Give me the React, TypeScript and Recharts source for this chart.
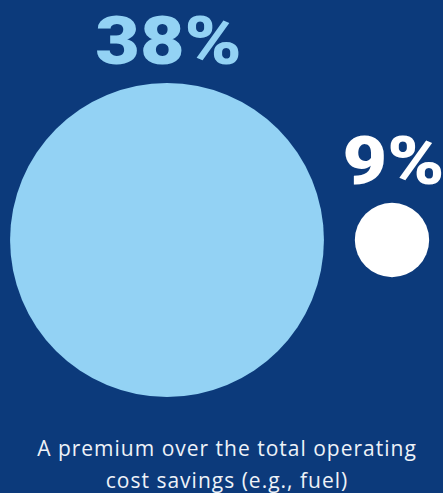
import React from "react";
import { ScatterChart, Scatter, XAxis, YAxis } from "recharts";

const categories = ["Premium", "Other"];
const values = [38, 9];
const labels = ["38%", "9%"];
const colors = ["#93d2f4", "#ffffff"];
const captionLines = ["A premium over the total operating", "cost savings (e.g., fuel)"];

const W = 443;
const H = 493;
const BG = "#0c3a7b";
const PX_PER_UNIT = 4.13;

const data = categories.map((c, i) => ({
  name: c,
  y: 0,
  value: values[i],
  label: labels[i],
  color: colors[i],
}));

const Bubble = (props: any) => {
  const { cx, cy, payload } = props;
  const r = payload.value * PX_PER_UNIT;
  const tx = cx + 1.5;
  const ty = cy - r - 19;
  return (
    <g>
      <circle cx={cx} cy={cy} r={r} fill={payload.color} />
      <text
        x={0}
        y={0}
        transform={`translate(${tx},${ty}) scale(1.15,1)`}
        textAnchor="middle"
        fill={payload.color}
        fontFamily="Roboto, sans-serif"
        fontWeight={900}
        fontSize={67}
      >
        {payload.label}
      </text>
    </g>
  );
};

export default function App() {
  return (
    <div style={{ position: "absolute", left: 0, top: 0, width: W, height: H, background: BG }}>
      <ScatterChart width={W} height={H} margin={{ top: 0, right: 0, bottom: 13, left: 0 }}>
        <XAxis
          dataKey="name"
          type="category"
          scale="point"
          allowDuplicatedCategory={false}
          padding={{ left: 167, right: 51 }}
          hide
        />
        <YAxis dataKey="y" type="number" domain={[-1, 1]} hide />
        <Scatter data={data} shape={<Bubble />} isAnimationActive={false} />
        <text
          x={227}
          y={456}
          textAnchor="middle"
          fill="#eef2f8"
          fontFamily="'Open Sans', sans-serif"
          fontWeight={400}
          fontSize={21}
          letterSpacing={1}
        >
          {captionLines[0]}
        </text>
        <text
          x={227}
          y={488}
          textAnchor="middle"
          fill="#eef2f8"
          fontFamily="'Open Sans', sans-serif"
          fontWeight={400}
          fontSize={21}
          letterSpacing={1}
        >
          {captionLines[1]}
        </text>
      </ScatterChart>
    </div>
  );
}
